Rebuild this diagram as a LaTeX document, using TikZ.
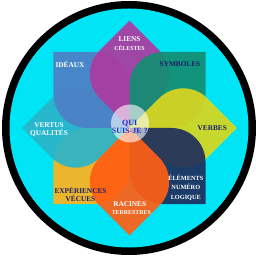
\documentclass[tikz,border=0pt]{standalone}
\usepackage{fontspec}
\setmainfont{Liberation Serif}
\usepackage{tikz}
\definecolor{ring}{RGB}{0,0,0}
\definecolor{sky}{RGB}{0,229,245}
\definecolor{cexp}{RGB}{255,178,28}
\definecolor{cvert}{RGB}{42,180,202}
\definecolor{cide}{RGB}{78,128,198}
\definecolor{clie}{RGB}{172,58,160}
\definecolor{csym}{RGB}{20,142,114}
\definecolor{cver}{RGB}{218,214,30}
\definecolor{cele}{RGB}{30,46,92}
\definecolor{crac}{RGB}{255,95,20}
\definecolor{navy}{RGB}{25,30,105}
\definecolor{qblue}{RGB}{35,45,210}
\tikzset{
  petal/.style={fill=#1,fill opacity=.92},
  lbl/.style={inner sep=0pt,align=center,text=#1,font=\fontsize{7.3}{8.7}\selectfont\bfseries},
  lbl/.default={white},
  sub/.style={lbl=#1,font=\fontsize{5.9}{7}\selectfont\bfseries},
  sub/.default={white},
}
\newlength{\ps}
\setlength{\ps}{76pt}
\newlength{\pr}
\setlength{\pr}{34pt}

\begin{document}
\begin{tikzpicture}[x=1pt,y=1pt]
 \useasboundingbox (-129.5,-128) rectangle (126.5,128);
 \fill[ring] (-0.5,0) circle (127pt);
 \fill[sky] (-0.5,0) circle (119.5pt);
 % petals, drawn from the bottom layer up
 \foreach \r/\c in {-180/cexp,135/cvert,90/cide,45/clie,0/csym,-45/cver,-90/cele,-135/crac}
  \fill[petal=\c,rotate=\r] (0,0) -- (\ps-\pr,0) arc[start angle=-90,end angle=0,radius=\pr]
   -- (\ps,\ps) -- (\pr,\ps) arc[start angle=90,end angle=180,radius=\pr] -- cycle;
 \fill[white,fill opacity=.6] (0.5,4.5) circle (19pt);
 \node[lbl] (liens) at (0,88.5){LIENS};
 \node[sub] (celestes) at (0,80.3){CÉLESTES};
 \node[lbl] (ideaux) at (-59.5,63.7){IDÉAUX};
 \node[lbl=navy] (symboles) at (50.5,63.7){SYMBOLES};
 \node[lbl=navy] (verbes) at (82.8,-0.3){VERBES};
 \node[lbl,font=\fontsize{6.3}{9.3}\selectfont\bfseries] (elements) at (56.3,-59.8){ÉLÉMENTS\\NUMÉRO\\LOGIQUE};
 \node[lbl] (racines) at (0.2,-76.3){RACINES};
 \node[sub] (terrestres) at (1.8,-84.3){TERRESTRES};
 \node[lbl=navy] (experiences) at (-49,-66.3){EXPÉRIENCES\\VÉCUES};
 \node[lbl] (vertus) at (-80.5,-1.6){VERTUS\\QUALITÉS};
 \node[lbl=qblue,font=\fontsize{8}{8.3}\selectfont\bfseries] (qui) at (0.3,1.2){QUI\\SUIS-JE ?};
\end{tikzpicture}
\end{document}
